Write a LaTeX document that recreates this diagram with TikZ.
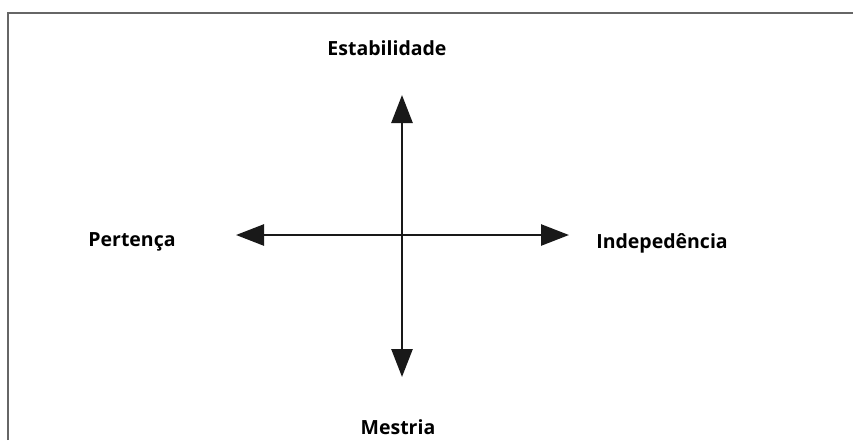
\documentclass[tikz,border=0pt]{standalone}
\usepackage{fontspec}
\setmainfont{Open Sans}
\usetikzlibrary{arrows.meta}

\begin{document}
\begin{tikzpicture}[x=1pt,y=-1pt,
  axis/.style={line width=2.6pt,black!90,
    {Triangle[length=28pt,width=21pt]}-{Triangle[length=28pt,width=21pt]}},
  label/.style={font=\fontsize{19.5}{22}\selectfont\bfseries,inner sep=0pt}]
\useasboundingbox (0,0) rectangle (853,440);
\draw[black!60,line width=2pt] (8,440) -- (8,13) -- (853,13);
\coordinate (top) at (402,95);
\coordinate (bottom) at (402,377);
\coordinate (left) at (236,235);
\coordinate (right) at (569,235);
\draw[axis] (bottom) -- (top);
\draw[axis] (left) -- (right);
\node[label] (est) at (387,48) {Estabilidade};
\node[label] (per) at (132,242) {Pertença};
\node[label] (ind) at (662,243) {Indepedência};
\node[label] (mes) at (398,427) {Mestria};
\end{tikzpicture}
\end{document}
